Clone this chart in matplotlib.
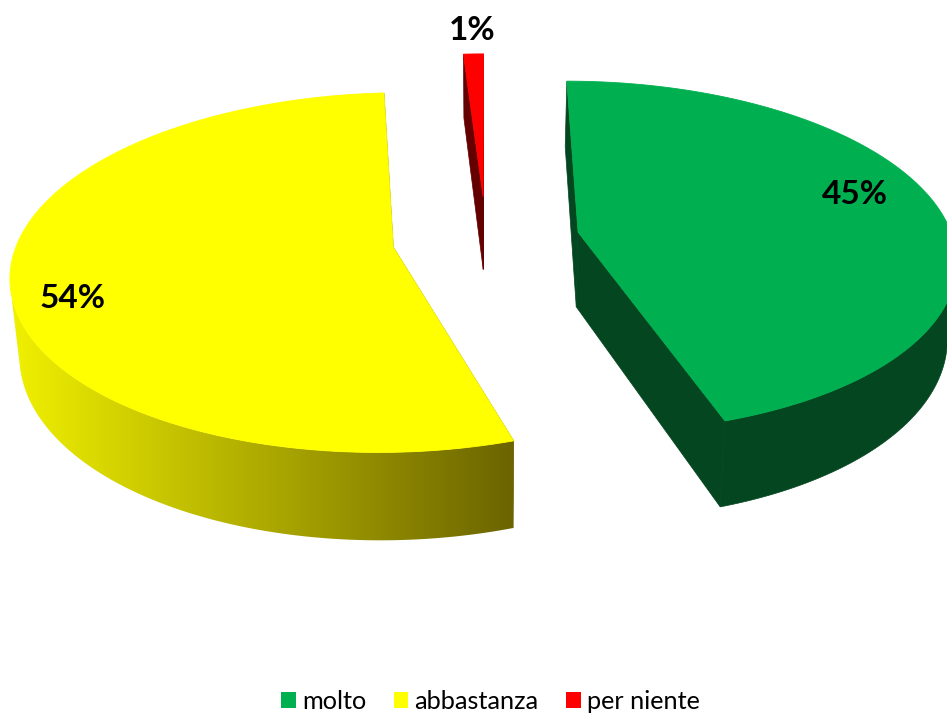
import numpy as np
from matplotlib import pyplot as plt
from matplotlib.colors import LinearSegmentedColormap
from matplotlib.patches import Patch, Polygon

plt.rcParams["font.family"] = ["Lato", "DejaVu Sans"]

labels = ["molto", "abbastanza", "per niente"]
values = [45, 54, 1]
pct_labels = ["45%", "54%", "1%"]

top_colors = ["#00B050", "#FFFF00", "#FF0000"]
side_colors = ["#03461F", None, "#640000"]
yellow_side = LinearSegmentedColormap.from_list("yellow_side", ["#F0F000", "#6B6400"])

# projection of the flat pie, pixels
cx = 486; cy = 239
bx = 375; by = 174
persp = 0.14
depth = 75
shrink = 0.98
explode = 0.25


def project(x, y, bottom = False):
    d = 1 + persp * y
    px = bx * x / d
    py = -by * y / d
    if bottom:
        px = px * shrink
        py = py + depth / d
    return cx + px, cy + py


fig = plt.figure(figsize = (9.47, 7.13), dpi = 100)
ax = fig.add_axes([0, 0, 1, 1])

starts = np.cumsum([0] + values[:-1]) / sum(values) * 2 * np.pi
ends = np.cumsum(values) / sum(values) * 2 * np.pi

# far slices first so the near ones sit on top
for i in [2, 0, 1]:
    mid = (starts[i] + ends[i]) / 2
    ox = explode * np.sin(mid)
    oy = explode * np.cos(mid)
    t = np.linspace(starts[i], ends[i], 400)
    x = ox + np.sin(t)
    y = oy + np.cos(t)

    tx, ty = project(x, y)
    wx, wy = project(x, y, True)
    ax0, ay0 = project(ox, oy)
    ax1, ay1 = project(ox, oy, True)

    # cut faces
    face = side_colors[i] if side_colors[i] else yellow_side(1.0)
    for k in [0, -1]:
        ax.add_patch(Polygon([(ax0, ay0), (tx[k], ty[k]), (wx[k], wy[k]), (ax1, ay1)], zorder = 1,
                             facecolor = face, edgecolor = face, linewidth = 0.5))

    # outer wall, only the part of the arc that faces the viewer
    cross = np.diff(tx) * (wy - ty)[:-1] - np.diff(ty) * (wx - tx)[:-1]
    vis = np.r_[cross < 0, cross[-1] < 0]
    if vis.any():
        wall = np.r_[np.c_[tx[vis], ty[vis]], np.c_[wx[vis], wy[vis]][::-1]]
        if side_colors[i]:
            ax.add_patch(Polygon(wall, facecolor = side_colors[i], edgecolor = side_colors[i],
                                 linewidth = 0.5, zorder = 1.2))
        else:
            clip = Polygon(wall, facecolor = "none", edgecolor = "none")
            ax.add_patch(clip)
            im = ax.imshow(np.linspace(0, 1, 256)[None, :], cmap = yellow_side, aspect = "auto",
                           extent = [12, 514, 560, 90], zorder = 1.2)
            im.set_clip_path(clip)

    ax.add_patch(Polygon(np.r_[[[ax0, ay0]], np.c_[tx, ty]], zorder = 1.5,
                         facecolor = top_colors[i], edgecolor = top_colors[i], linewidth = 0.6))

ax.set_xlim(0, 947)
ax.set_ylim(713, 0)
ax.axis("off")

ax.text(855, 195, pct_labels[0], ha = "center", va = "center", fontsize = 24, fontweight = "bold")
ax.text(73, 299, pct_labels[1], ha = "center", va = "center", fontsize = 24, fontweight = "bold")
ax.text(472, 31, pct_labels[2], ha = "center", va = "center", fontsize = 24, fontweight = "bold")

handles = [Patch(facecolor = c, label = l) for c, l in zip(top_colors, labels)]
fig.legend(handles = handles, loc = "lower center", bbox_to_anchor = (0.518, -0.032), ncol = 3,
           frameon = False, fontsize = 18.2, handlelength = 0.58, handleheight = 0.58,
           handletextpad = 0.24, columnspacing = 1.1)

fig.savefig("out.png", dpi = 100)
